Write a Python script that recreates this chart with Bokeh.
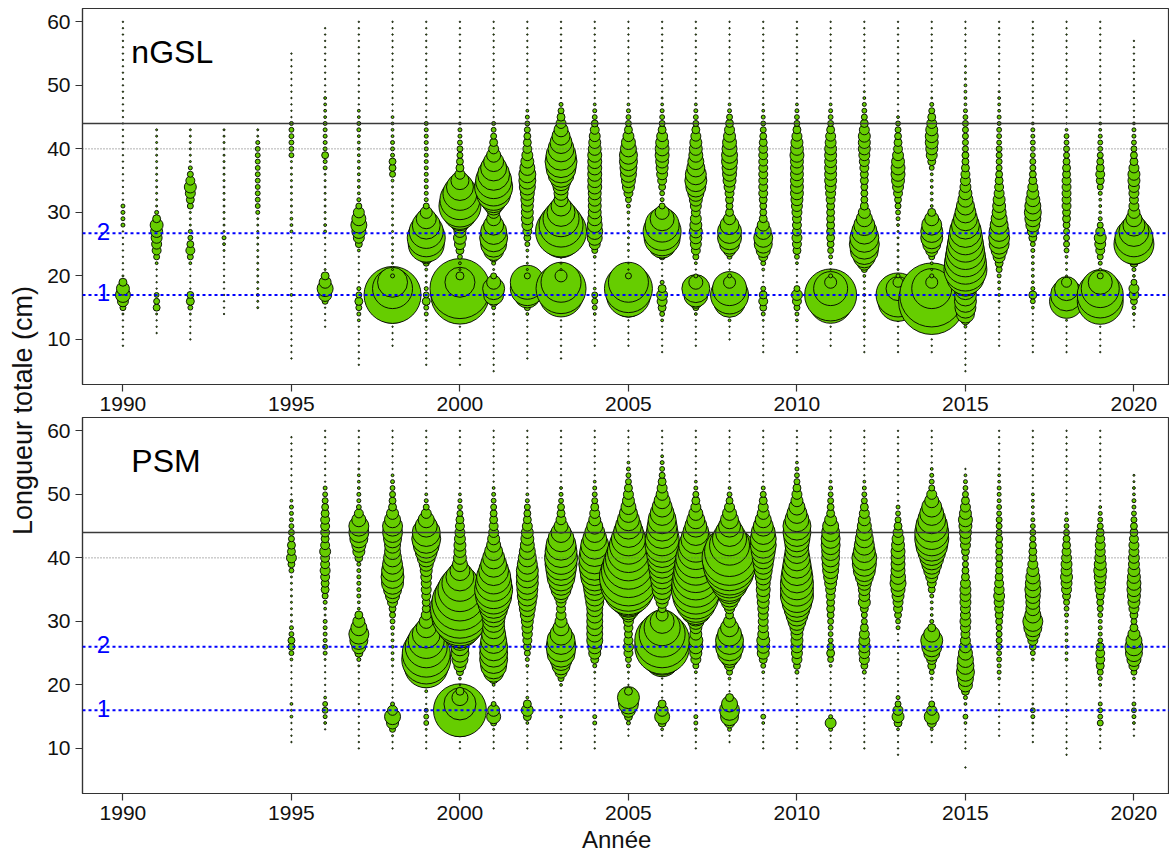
import math
from bokeh.plotting import figure
from bokeh.layouts import row, column
from bokeh.models import Range1d, FixedTicker, Span, ColumnDataSource
from bokeh.core.properties import value
from bokeh.embed import file_html
from bokeh.resources import INLINE

# ---------------- data (relative catch per length class) -------------
T = 0.5  # trace catch (tiny dots)

# year: (first length class in cm, values for consecutive 1-cm classes)
NGSL = {
 1990: (9, [T,T,T,T,T, 1, 9,30,56,42,16, 1, T,T,T,T,T,T,T, 4,4,4,4, T,T,T,T,T,T,T,T,T,T, T,T,T,T,T,T,T,T,T,T, T,T,T,T,T,T,T,T,T]),
 1991: (11, [T,T,T, 1, 12,9,6, T,T,T,T, 2,9,20,25,30,36,42,16,4, 1,1,1,1,1,1,1,1,1,1,1,1,1]),
 1992: (10, [T,T,T,T, 1, 6,16,12, T,T,T,T, 2,9,20,12,6,4, 1,1,1, 9,16,25,36,20,9,4, 1,1,1,1,1,1]),
 1993: (14, [T,T,T,T,T,T,T,T,T,T, 1,2,4,1, 1,1,1,1,1,1,1,1,1,1,1,1,1,1,1,1]),
 1994: (15, [1,1,2, 1,1,1,1,1,1,1,1,1,1,1,1, 4, 6,6,6,6,6,6,6,6,6,6, 4,1,1]),
 1995: (7, [T,T,T,T,T,T,T,T,T,T, 2, T,T,T,T,T,T,T,T,T, 2,2,2, 1,1,1,1,1,1,1,1,1, 6,6,6,6,6, 4, T,T,T,T,T,T,T,T,T,T,T]),
 1996: (12, [T,T,T,T, 9,42,64,36,16,1, T,T,T,T,T, 2,2, 1,1,1,1,1,1,1,1, 4,4,12,4,4,4,4,4, 2,2,2,2, T,T,T,T,T,T,T,T,T,T,T]),
 1997: (6, [T,T,T,T,T,T,T, 2,4,9,16,9,4, T,T,T,T,T, 2,12,30,49,64,49,30,9,4, 2,2,2,2,2,2,2,2,2,2, 4,4,2,2, T,T,T,T,T,T,T,T,T,T,T,T,T,T]),
 1998: (9, [T,T,T,T, 2,16,100,484,812,400,225,4, 1,1, 1,1,1,1,1,1,1,1,1,1,1,1, 2,9,12,12,4,4,4,2,2,2,2, T,T,T,T,T,T,T,T,T,T,T,T,T,T,T]),
 1999: (6, [T,T,T,T,T,T,T, 1,4,6,16,9,4, 1,1, 2,9,49,144,324,361,289,196,100,36,9, 4,4,4,4,4,4,4,4,4,4,4,4,4, T,T,T,T,T,T,T,T,T,T,T,T,T,T,T,T]),
 2000: (6, [T,T,T,T,T,T,T, 2,16,121,500,850,900,225,16, 1,2,6,16,30,42,36,64,144,289,441,400,289,182,81,25, 16,12,9,9,6,4,4,2, T,T,T,T,T,T,T,T,T,T,T,T,T,T,T,T]),
 2001: (5, [T,T,T,T,T,T,T,T,T, 1,4,25,100,121,49,9, 1,4,25,100,169,196,169,100,49,36,81,169,289,361,324,256,169,100,49,25,16,9,6,4, T,T,T,T,T,T,T,T,T,T,T,T,T,T,T,T]),
 2002: (7, [T,T,T,T,T,T,T, 2,9,36,169,289,289,9, 1,1,1,2,6,12,20,30,36,36,36,42,49,64,72,72,56,42,30,20,16,12,9,6,4,2, T,T,T,T,T,T,T,T,T,T,T,T,T,T]),
 2003: (7, [T,T,T,T,T,T,T, 4,16,144,484,625,400,36, 1,1,2,16,121,400,650,484,324,196,100,49,49,64,100,169,225,256,225,169,121,81,49,25,16,9,4, T,T,T,T,T,T,T,T,T,T,T,T,T]),
 2004: (9, [T,T,T,T,T, 2,6,9,9,2, T,T,T,T, 2,9,30,56,64,56,49,42,42,42,42,49,49,49,49,49,49,42,36,30,20,12,6,4,2, T,T,T,T,T,T,T,T,T,T,T,T,T]),
 2005: (9, [T,T,T,T,T, 4,36,256,484,576,400,9, T,T,T, 1,1,1,1,1,1,2,4,9,20,36,49,64,72,81,81,64,49,30,16,9,6,4,2, T,T,T,T,T,T,T,T,T,T,T,T,T]),
 2006: (8, [T,T,T,T,T, 2,6,16,25,30,16,4, T,T,T, 9,64,196,324,361,289,144,49,9,4,6,12,20,30,36,42,49,49,42,30,16,9,6,4,2,1, T,T,T,T,T,T,T,T,T,T,T,T]),
 2007: (9, [T,T,T,T,T, 2,9,49,144,196,49,4, T, 2,9,20,30,36,42,36,30,20,30,42,64,100,121,110,81,64,49,42,36,25,16,9,6,4,2, T,T,T,T,T,T,T,T,T,T,T,T,T]),
 2008: (10, [T,T,T, 2,9,64,256,361,289,36,4, T,T, 6,36,100,144,144,90,36,16,12,16,20,30,42,49,56,64,64,56,49,36,25,16,9,4,2, T,T,T,T,T,T,T,T,T,T,T,T,T]),
 2009: (8, [T,T,T,T,T, 1,4,12,20,16,6, T,T, 2,6,20,49,81,90,64,36,16,12,12,16,20,20,20,20,20,20,20,20,16,12,9,6,4,2,1, T,T,T,T,T,T,T,T,T,T,T,T,T]),
 2010: (8, [T,T,T,T,T, 2,4,9,20,30,9, T,T,T, 2,6,16,20,25,20,20,20,25,30,36,42,42,42,42,42,42,49,42,36,25,16,9,6,4,2, T,T,T,T,T,T,T,T,T,T,T,T,T]),
 2011: (9, [T,T,T,T, 2,25,196,484,676,289,36,4, T, 2,4,9,12,16,16,16,16,16,16,20,25,30,36,36,36,36,36,36,30,25,16,9,6,4,2, T,T,T,T,T,T,T,T,T,T,T,T,T]),
 2012: (8, [T,T,T,T, 1,1,1,1,1,2,1,1, 2,9,49,121,196,225,210,160,110,64,36,16,12,12,12,16,16,20,25,30,36,36,36,25,16,9,6,4,2,1, T,T,T,T,T,T,T,T,T,T,T]),
 2013: (8, [T,T,T,T,T, 2,16,100,400,484,144,25,4, 1,1,1,1,1,1,1, 2,4,6,9,12,20,30,42,49,49,42,30,20,16,12,9,6,2, T,T,T,T,T,T,T,T,T,T,T,T,T,T,T]),
 2014: (8, [T,T,T,T,T, 9,100,400,1100,1024,400,36,4, 1,2,9,36,81,121,121,100,49,16,2,2,2,2,2,2,6,16,30,36,42,42,36,25,16,9,4,1, T,T,T,T,T,T,T,T,T,T,T,T]),
 2015: (5, [T,T,T,T,T,T,T, 2,20,81,110,121,121,121,196,361,462,441,400,361,324,289,256,196,144,110,81,56,42,30,25,20,16,12,12,9,9,9,9,9,6,4,2,2,2,2,1,1,1, T,T,T,T,T,T,T]),
 2016: (9, [T,T,T,T,T,T,T, 1,2,2,2,4,9,16,36,64,100,110,100,81,64,49,42,36,25,20,16,12,9,9,9,9,6,6,6,4,4,2,2,2,1, T,T,T,T,T,T,T,T,T,T,T]),
 2017: (8, [T,T,T,T,T,T,T, 2,6,16,4,2,2,2,2,2,4,6,16,30,49,64,72,64,49,36,25,16,12,9,9,6,6,6,4,4,2, T,T,T,T,T,T,T,T,T,T,T,T,T,T,T,T]),
 2018: (8, [T,T,T,T,T, 1,9,100,289,256,144,25, 1,1,1,2,6,9,9,9,12,16,16,20,20,20,20,20,16,16,12,9,9,6,6,2, T,T,T,T,T,T,T,T,T,T,T,T,T,T,T,T,T]),
 2019: (8, [T,T,T,T,T, 4,36,256,529,529,361,144,9, 2,4,9,20,30,36,20,9,4,2,2,2,4,9,16,20,16,12,9,6,6,4,2,2, T,T,T,T,T,T,T,T,T,T,T,T,T,T,T,T]),
 2020: (12, [T,T, 2,4,12,25,25,9,2,4,16,64,196,400,361,225,121,64,36,25,20,25,30,36,36,25,16,12,9,6,4,4,2, T,T,T,T,T,T,T,T,T,T,T,T,T]),
}

PSM = {
 1995: (11, [T,T,T,T, 2,1,2, T,T,T,T,T,T, 2,6,12,12,6,4, 1,1,1,1,1,1,1,1, 6,12,25,16,16,9,9,6,4,4,4,2, T,T,T,T,T,T,T,T,T,T]),
 1996: (13, [T, 2,4,9,6,2, T,T,T,T,T, 1,4,6,4,4,4,4,1,2,4,9,16,16,20,25,20,20,30,20,16,20,20,20,16,12,9,6,4, T,T,T,T,T,T,T,T,T]),
 1997: (10, [T,T,T,T,T,T,T,T,T,T,T,T,T, 1,4,16,49,81,100,64,36,16,2,2,4,4,4,4,4,4,16,36,49,81,100,100,49,20,6,4,4,2,2,2,1, T,T,T,T,T,T]),
 1998: (10, [T,T, 1,9,36,64,25,4, T,T,T,T,T, 1,2,2,2,2,2,4,6,9,12,25,49,81,121,132,121,100,81,64,64,81,100,100,64,36,16,12,9,6,4,2, T,T,T,T,T,T,T]),
 1999: (10, [T,T,T, 1,6,6,4, T,T, 2,9,64,225,484,600,576,441,324,196,100,49,25,16,16,20,25,25,30,36,49,81,121,169,210,196,121,64,25,9,4,2, T,T,T,T,T,T,T,T,T,T]),
 2000: (10, [T,T,T, 4,64,400,700,256,64,16, T, 2,12,36,64,81,81,100,200,400,600,800,870,784,625,484,324,196,100,56,42,36,36,30,25,20,16,9,6,4,2, T,T,T,T,T,T,T,T,T,T]),
 2001: (10, [T,T,T, 1,9,49,36,6, T,T, 2,25,100,169,196,196,196,169,144,121,121,144,196,256,324,361,324,289,225,169,121,81,49,36,25,20,16,12,9,6,4,2, T,T,T,T,T,T,T,T,T]),
 2002: (10, [T,T,T,T, 2,16,36,16,2, T,T,T,T, 2,4,9,16,20,25,30,36,49,64,81,100,110,121,121,121,100,81,64,49,42,36,25,16,12,9,4,2, T,T,T,T,T,T,T,T,T,T]),
 2003: (10, [T,T,T,T,T, 2, T,T,T,T, 2,9,36,81,121,196,225,196,121,64,36,25,20,25,49,100,144,196,225,256,272,256,225,169,100,49,25,16,12,6,4,2, T,T,T,T,T,T,T,T,T]),
 2004: (10, [T,T,T,T, 4,4, T,T,T,T,T,T, 1,4,16,36,49,64,64,64,64,64,64,81,100,121,144,196,225,256,256,225,196,144,100,64,36,25,16,9,6,4,2, T,T,T,T,T,T,T,T]),
 2005: (12, [T,T, 4,16,49,100,121,16, T,T, 1,4,9,20,25,20,16,20,25,49,121,225,400,625,784,841,729,625,529,441,361,289,225,169,121,81,56,36,25,16,9,6,4,2, T,T,T,T,T]),
 2006: (12, [T, 2,16,56,36,16, T,T,T,T, 16,100,300,484,750,750,529,324,144,36,16,36,64,100,121,144,169,196,225,256,289,289,256,225,196,144,100,64,36,25,16,9,6,4,2, T,T,T,T]),
 2007: (10, [T,T,T, 2,4,4, T,T,T,T,T,T, 2,9,25,36,49,49,36,36,64,121,256,400,529,600,576,529,484,441,400,324,289,225,169,121,81,49,25,16,9,4,2, T,T,T,T,T,T,T,T]),
 2008: (11, [T,T, 4,25,81,100,64,16, T,T, 2,9,25,64,144,196,196,144,81,36,16,25,64,121,196,324,441,600,700,756,625,400,289,196,121,81,49,25,12,6,2, T,T,T,T,T,T,T,T,T]),
 2009: (10, [T,T,T,T, 2,6, T,T,T,T,T,T, 2,6,16,36,42,42,30,25,25,25,30,36,42,49,49,64,81,100,121,144,169,169,144,100,64,36,25,16,9,4, T,T,T,T,T,T,T,T,T]),
 2010: (10, [T,T,T,T,T,T,T,T,T,T,T,T, 4,12,25,30,36,36,36,49,81,121,169,225,272,272,272,256,225,196,169,144,144,169,196,196,144,100,64,36,25,16,9,6,4,2, T,T,T,T,T]),
 2011: (10, [T,T,T, 4,30,4, T,T,T,T,T,T,T, 2,9,16,12,6,6,6,9,12,16,16,20,25,36,49,64,72,81,81,90,90,81,64,36,16,12,9,6,4,2, T,T,T,T,T,T,T,T]),
 2012: (10, [T,T,T,T,T,T,T,T,T,T,T,T, 4,12,25,30,36,30,25,16,9,9,16,36,30,36,49,81,121,144,156,121,100,81,64,49,36,25,16,9,6,4,2, T,T,T,T,T,T,T,T]),
 2013: (9, [T,T,T,T, 2,16,36,25,9,4, T,T,T,T,T,T,T,T,T,T, 4,6,12,20,25,36,49,64,56,49,49,49,49,42,36,25,16,9,6,4, T,T,T,T,T,T,T,T,T,T,T,T]),
 2014: (11, [T,T, 2,20,56,25,9, T,T,T, 2,6,16,25,64,100,121,64,16,4,2,2,2,4,12,20,36,64,100,144,196,256,289,289,256,196,144,100,49,25,9,6,4,2, T,T,T,T,T,T]),
 2015: (7, [T,0,0,T,T,T,T, 2,6,1,2,4,16,49,64,81,72,64,49,36,25,20,25,30,25,25,30,30,30,25,16,12,9,9,16,25,30,36,42,49,36,25,16,9,6,4,2,T]),
 2016: (12, [T,T,T,T,T,T,T,T,T, 2,4,4,6,6,9,9,9,9,12,16,20,25,30,25,20,16,12,12,12,12,12,12,9,9,9,6,6,4,4,4,2,2,1, T,T,T,T,T,T]),
 2017: (11, [T,T,T, 1,4,6,1, T,T,T,T,T,T, 2,6,12,25,49,81,100,64,49,49,56,64,56,49,36,25,16,16,12,9,9,6,4,2,2,2,2, T,T,T,T,T,T,T,T,T,T]),
 2018: (9, [T,T,T,T,T,T,T, 1, T,T,T,T,T,T,T, 2,2,2,2,2,2,2,4,6,9,16,25,30,36,30,30,25,20,16,12,9,6,4,2, T,T,T,T,T,T,T,T,T,T,T,T,T]),
 2019: (10, [T,T,T, 1,9,6,6,4, T,T, 2,4,9,16,20,20,16,6,4,4,4,6,9,12,16,25,30,36,42,36,30,25,25,20,16,9,6,4,2, T,T,T,T,T,T,T,T,T,T,T,T]),
 2020: (12, [T,T, 2,4,6,4, T,T,T, 2,9,25,49,72,81,64,36,16,9,16,25,36,42,49,49,42,36,30,30,25,25,20,16,12,9,6,4,4,2,2,1,1]),
}

NGSL_AGE_LINES = [17, 26.7]
PSM_AGE_LINES = [16, 26]
AGE_LABELS = ["1", "2"]
SOLID_LINE = 44
DOTTED_LINE = 40

X_TICKS = [1990, 1995, 2000, 2005, 2010, 2015, 2020]
Y_TICKS = [10, 20, 30, 40, 50, 60]

# ---------------- styling --------------------------------------------------------------------
FONT = "Liberation Sans"
GREEN = "#66CD00"
FRAME = "#333333"
SIZE_K = 2.0          # px of diameter per sqrt(value)
LABEL_W = 40
LEFT = 42
FRAME_W = 1087
PW = LEFT + FRAME_W
X0 = 1988.8
X1 = X0 + FRAME_W / 33.7
Y0, Y1 = 2.9, 62.1
FRAME_H = 376
TOP_H = 8 + FRAME_H + 32
BOT_H = 1 + FRAME_H + 32
STRIP_H = 852 - TOP_H - BOT_H


def bubbles(data):
    xs, ys, sz = [], [], []
    for yr in sorted(data):
        start, vals = data[yr]
        for i, v in enumerate(vals):
            if v <= 0:
                continue
            xs.append(yr)
            ys.append(start + i)
            sz.append(SIZE_K * math.sqrt(v))
    return ColumnDataSource(dict(x=xs, y=ys, size=sz))


def panel(data, name, age_lines, height, top, bottom):
    p = figure(width=PW, height=height, x_range=Range1d(X0, X1), y_range=Range1d(Y0, Y1),
               output_backend="svg", toolbar_location=None,
               min_border_left=LEFT, min_border_right=0,
               min_border_top=top, min_border_bottom=bottom)
    p.grid.visible = False
    p.outline_line_color = FRAME
    p.outline_line_width = 1.2

    p.scatter("x", "y", size="size", source=bubbles(data), marker="circle",
              fill_color=GREEN, line_color="black", line_width=0.9)

    p.add_layout(Span(location=SOLID_LINE, dimension="width", line_color="#3a3a3a", line_width=1.4))
    p.add_layout(Span(location=DOTTED_LINE, dimension="width", line_color="#666666",
                      line_width=1, line_dash="1 2"))
    for loc in age_lines:
        p.add_layout(Span(location=loc, dimension="width", line_color="blue",
                          line_width=2, line_dash="3 3"))
    p.text(x=[1989.42] * len(age_lines), y=age_lines, text=AGE_LABELS,
           text_font=value(FONT), text_font_size="24px", text_color="blue",
           text_align="center", text_baseline="alphabetic", y_offset=-2)
    p.text(x=[1990.25], y=[55.2], text=[name], text_font=value(FONT),
           text_font_size="32px", text_color="black",
           text_align="left", text_baseline="middle")

    for ax in (p.xaxis[0], p.yaxis[0]):
        ax.axis_line_color = FRAME
        ax.axis_line_width = 1.2
        ax.major_tick_line_color = FRAME
        ax.major_tick_line_width = 1.2
        ax.major_tick_out = 7
        ax.major_tick_in = 0
        ax.minor_tick_line_color = None
        ax.major_label_text_font = FONT
        ax.major_label_text_font_size = "21px"
        ax.major_label_text_color = "#111111"
    p.xaxis.ticker = FixedTicker(ticks=X_TICKS)
    p.yaxis.ticker = FixedTicker(ticks=Y_TICKS)
    p.xaxis.major_label_standoff = 5
    p.yaxis.major_label_standoff = 5
    return p


top = panel(NGSL, "nGSL", NGSL_AGE_LINES, height=TOP_H, top=8, bottom=32)
bot = panel(PSM, "PSM", PSM_AGE_LINES, height=BOT_H, top=1, bottom=32)

# x-axis title strip (no axes)
strip = figure(width=PW, height=STRIP_H, x_range=Range1d(X0, X1), y_range=Range1d(0, 1),
               x_axis_type=None, y_axis_type=None,
               output_backend="svg", toolbar_location=None,
               min_border_left=LEFT, min_border_right=0, min_border_top=0, min_border_bottom=0)
strip.grid.visible = False
strip.outline_line_color = None
strip.text(x=[2004.65], y=[0.5], text=["Année"], text_font=value(FONT),
           text_font_size="24px", text_color="#111111",
           text_align="center", text_baseline="middle")

total_h = TOP_H + BOT_H + STRIP_H
lab = figure(width=LABEL_W, height=total_h, x_range=Range1d(0, 1), y_range=Range1d(0, 1),
             x_axis_type=None, y_axis_type=None,
             output_backend="svg", toolbar_location=None, min_border=0)
lab.grid.visible = False
lab.outline_line_color = None
lab.text(x=[0.55], y=[1 - 410 / total_h], text=["Longueur totale (cm)"], angle=math.pi / 2,
         text_font=value(FONT), text_font_size="27px", text_color="#111111",
         text_align="center", text_baseline="middle")

layout = row(lab, column(top, bot, strip))
open("out.html", "w").write(file_html(layout, INLINE))
